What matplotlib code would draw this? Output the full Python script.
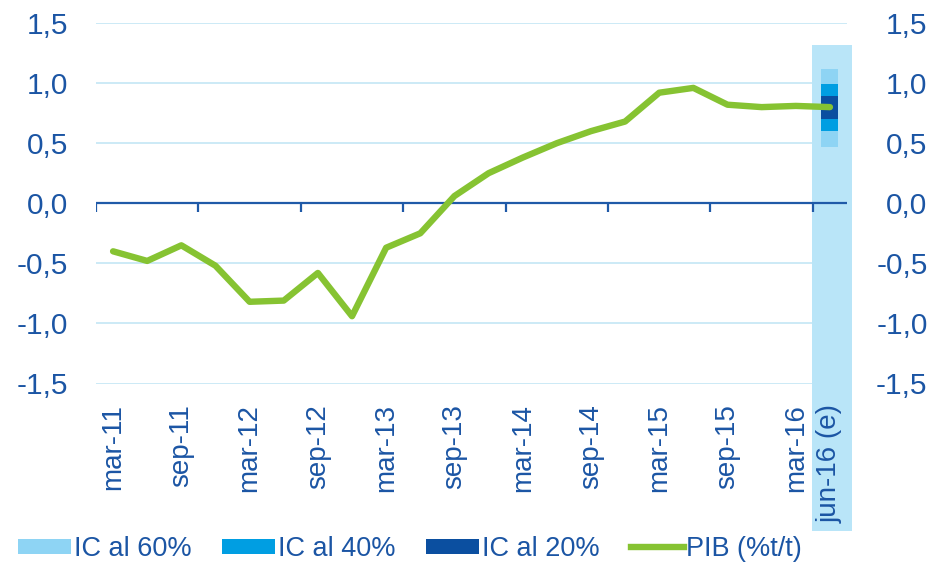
import numpy as np
import matplotlib
matplotlib.use('Agg')
import matplotlib.pyplot as plt
from matplotlib.patches import Patch, Rectangle
from matplotlib.lines import Line2D

plt.rcParams['font.family'] = ['Liberation Sans', 'DejaVu Sans']

# quarterly GDP growth (%q/q), mar-11 .. jun-16 (last one is the estimate)
quarters = ['mar-11', 'jun-11', 'sep-11', 'dec-11', 'mar-12', 'jun-12', 'sep-12', 'dec-12',
            'mar-13', 'jun-13', 'sep-13', 'dec-13', 'mar-14', 'jun-14', 'sep-14', 'dec-14',
            'mar-15', 'jun-15', 'sep-15', 'dec-15', 'mar-16', 'jun-16 (e)']
pib = [-0.40, -0.48, -0.35, -0.52, -0.82, -0.81, -0.58, -0.94, -0.37, -0.25, 0.06,
       0.25, 0.38, 0.50, 0.60, 0.68, 0.92, 0.96, 0.82, 0.80, 0.81, 0.80]

# confidence intervals for the estimate (low, high)
ic_labels = ['IC al 60%', 'IC al 40%', 'IC al 20%']
ic_low = [0.47, 0.60, 0.70]
ic_high = [1.12, 0.99, 0.89]
ic_colors = ['#8ed4f4', '#009ee2', '#0b4fa0']

yticks = [-1.5, -1.0, -0.5, 0.0, 0.5, 1.0, 1.5]

BLUE = '#1b55a4'
GREEN = '#86c332'
GRID = '#c8e8f6'
HILITE = '#b9e5f8'

idx = np.arange(len(quarters))
lab_idx = list(idx[::2]) + [idx[-1]]
lab_txt = [quarters[i] for i in lab_idx]

fig = plt.figure(figsize=(9.34, 5.65), dpi=100)
ax = fig.add_axes([96/934, 1-383.5/565, (847-96)/934, (383.5-23)/565])
ax.set_xlim(-0.5, len(quarters)-0.5)
ax.set_ylim(-1.5, 1.5)
for s in ax.spines.values():
    s.set_visible(False)
ax.set_axisbelow(False)

for v in yticks:
    if v != 0:
        ax.axhline(v, color=GRID, lw=1.3, zorder=0.5)

# shaded column behind the estimate (runs down over its label)
ax.add_patch(Rectangle((idx[-1]-0.53, -2.73), 1.18, 1.32+2.73, color=HILITE,
                       clip_on=False, zorder=1, lw=0))

ax.axhline(0, color='#1f5aa8', lw=1.6, zorder=2)
ax.vlines(idx[::3]-0.5, -0.075, 0, color='#1f5aa8', lw=1.6, zorder=2)

for lo, hi, c in zip(ic_low, ic_high, ic_colors):
    ax.bar(idx[-1], hi-lo, bottom=lo, width=0.5, color=c, zorder=3, lw=0)

ax.plot(idx, pib, color=GREEN, lw=4.6, solid_capstyle='round', zorder=5)

fmt = [f'{v:.1f}'.replace('.', ',') for v in yticks]
ax.set_yticks(yticks)
ax.set_yticklabels(fmt)
ax.tick_params(axis='y', length=0, pad=20, labelsize=21.5, labelcolor=BLUE)
ax.set_xticks(lab_idx)
ax.set_xticklabels(lab_txt, rotation=90)
ax.tick_params(axis='x', length=0, pad=15, labelsize=20, labelcolor=BLUE)

ax2 = ax.twinx()
ax2.set_ylim(-1.5, 1.5)
for s in ax2.spines.values():
    s.set_visible(False)
ax2.set_yticks(yticks)
ax2.set_yticklabels(fmt)
ax2.tick_params(axis='y', length=0, pad=58, labelsize=21.5, labelcolor=BLUE)
plt.setp(ax2.get_yticklabels(), ha='right')

handles = [Patch(color=c, lw=0) for c in ic_colors] + [Line2D([], [], color=GREEN, lw=4.6)]
fig.legend(handles, ic_labels + ['PIB (%t/t)'], ncol=4, loc='center left',
           bbox_to_anchor=(18/934, 1-549/565), frameon=False, fontsize=19.5,
           handlelength=1.95, handleheight=0.5, handletextpad=0.1, columnspacing=1.15,
           borderpad=0, borderaxespad=0, labelcolor=BLUE)

fig.savefig('out.png', dpi=100)
